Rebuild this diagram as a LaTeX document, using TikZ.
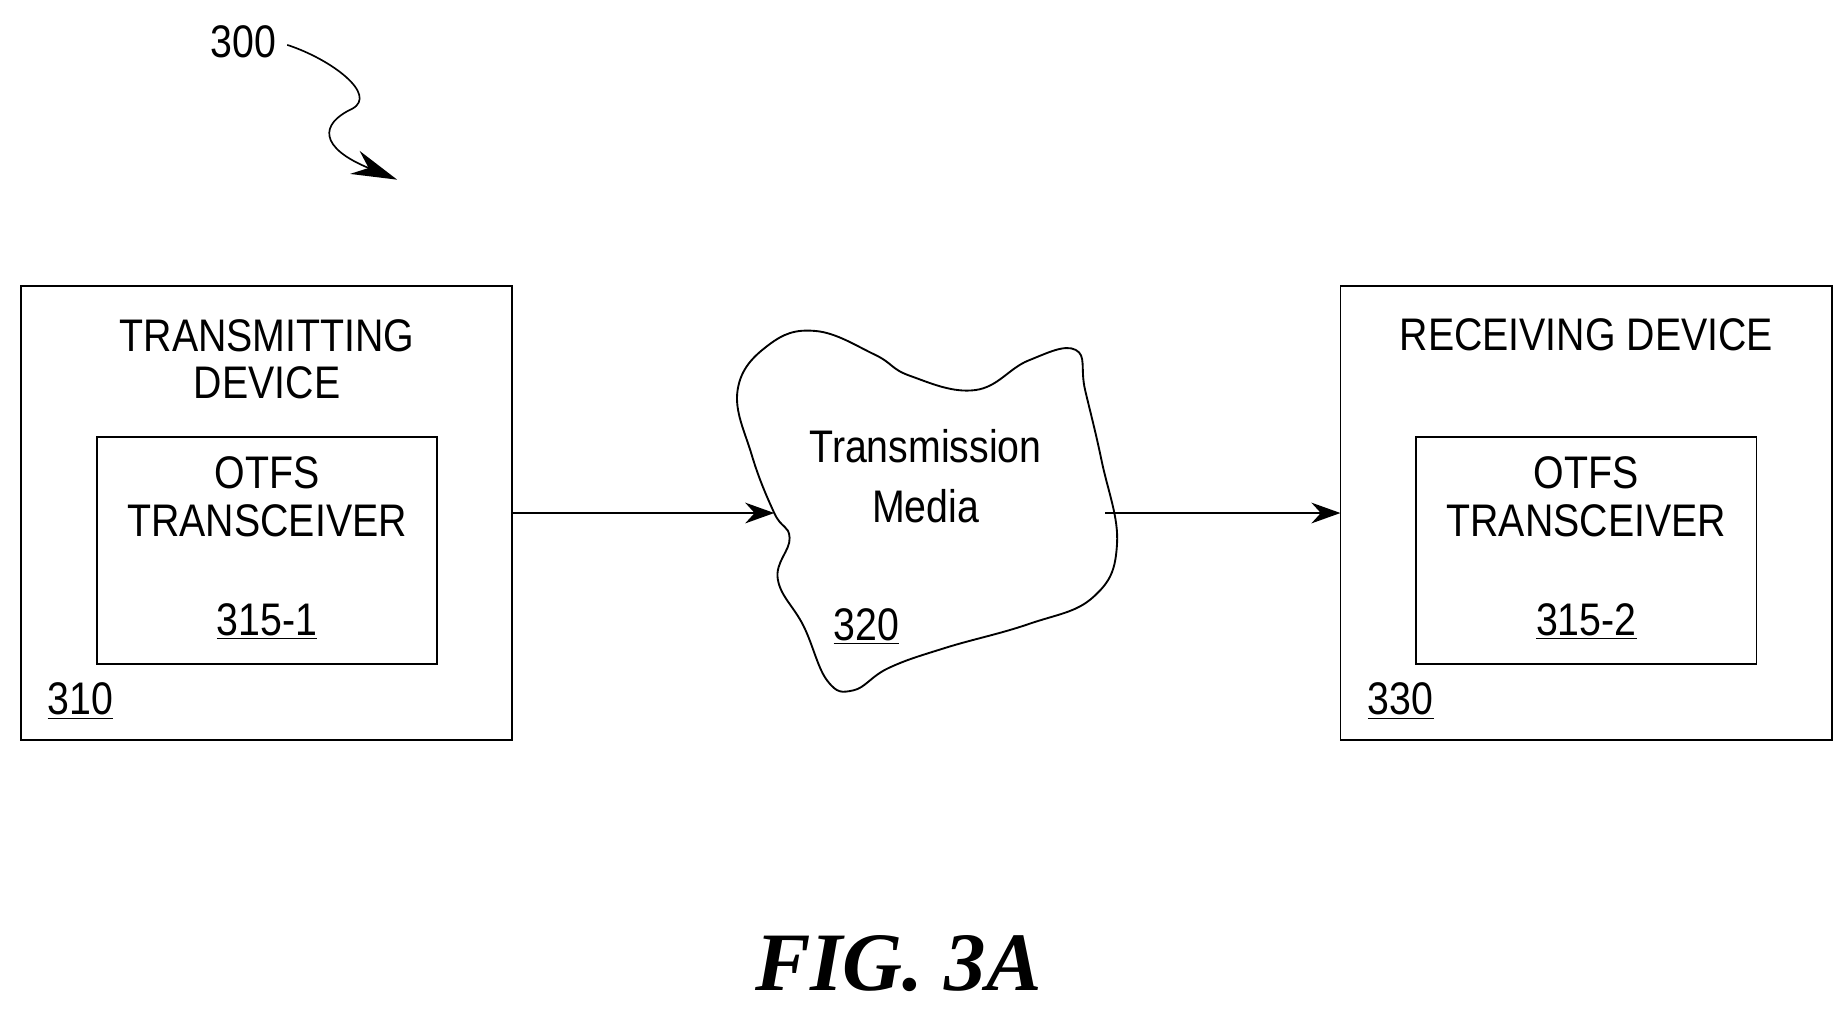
\documentclass[tikz,border=0pt]{standalone}
\usepackage{fontspec}
\setmainfont{Liberation Sans}[FakeStretch=0.86]
\newfontfamily\figfont{Liberation Serif}
\usetikzlibrary{arrows.meta,calc}
\begin{document}
\begin{tikzpicture}[x=0.02cm,y=-0.02cm,
  box/.style={draw,line width=0.9pt},
  lbl/.style={font=\fontsize{22}{25}\selectfont,align=center,inner sep=0pt},
  link/.style={-{Stealth[length=14pt,width=10pt]},line width=0.8pt}]
  \useasboundingbox (0,0) rectangle (1560,853);
  % devices
  \draw[box] (18,242) rectangle (433,626);
  \draw[box] (82,370) rectangle (370,562);
  \draw[box] (1134,242) rectangle (1550,626);
  \draw[box] (1198,370) rectangle (1486,562);
  \node[lbl] (tx) at (226,304) {TRANSMITTING\\[-2pt]DEVICE};
  \node[lbl] (txr) at (226,420) {OTFS\\[-2pt]TRANSCEIVER};
  \node[lbl] (n3151) at (226,526) {\underline{315-1}};
  \node[lbl] (n310) at (68,593) {\underline{310}};
  \node[lbl] (rx) at (1342,283) {RECEIVING DEVICE};
  \node[lbl] (rxr) at (1342,420) {OTFS\\[-2pt]TRANSCEIVER};
  \node[lbl] (n3152) at (1342,526) {\underline{315-2}};
  \node[lbl] (n330) at (1185,593) {\underline{330}};
  % cloud
  \draw[line width=0.9pt] plot[smooth cycle,tension=0.7] coordinates {
    (655,434) (636,385) (624,330) (650,292) (690,280) (740,300) (770,318)
    (825,330) (870,305) (910,296) (918,330) (932,390) (945,460)
    (925,505) (870,528) (800,548) (752,565) (722,584) (700,576)
    (680,530) (658,490) (668,455)};
  \node[lbl] (media) at (783,403) {Transmission\\[4pt]Media};
  \node[lbl] (n320) at (733,530) {\underline{320}};
  \coordinate (cin) at (655,434);
  \coordinate (cout) at (935,434);
  \coordinate (txe) at (433,434);
  \coordinate (rxw) at (1134,434);
  \draw[link] (txe) -- (cin);
  \draw[link] (cout) -- (rxw);
  % reference 300
  \node[lbl] (n300) at (206,35) {300};
  \coordinate (tip) at (336,152);
  \draw[line width=0.8pt,-{Stealth[length=22pt,width=12pt]}]
    (243,38) .. controls (280,50) and (320,80) .. (298,92)
    .. controls (270,105) and (270,125) .. (tip);
  \node[inner sep=0pt,font=\figfont\bfseries\itshape\fontsize{40}{44}\selectfont] (fig) at (760,815) {FIG. 3A};
\end{tikzpicture}
\end{document}
